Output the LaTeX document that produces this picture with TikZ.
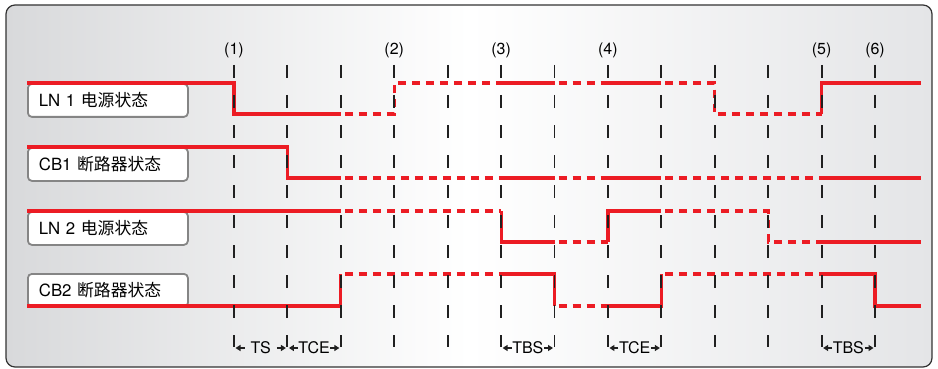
\documentclass[tikz,border=0pt]{standalone}
\usepackage{fontspec}
\setmainfont{TeX Gyre Heros}
\newfontfamily\cjk{Noto Sans CJK SC}
\usetikzlibrary{arrows.meta,calc}
\definecolor{sigred}{HTML}{EC1C24}
\definecolor{tickgray}{HTML}{202020}
\definecolor{boxgray}{HTML}{858585}
\definecolor{bgleft}{HTML}{D8D9DB}
\definecolor{bgright}{HTML}{E4E5E7}
\definecolor{framegray}{HTML}{333333}
\begin{document}
\begin{tikzpicture}[x=1pt,y=-1pt,
  lbl/.style={font=\fontsize{16}{19}\selectfont, inner sep=0pt},
  dimlbl/.style={font=\fontsize{16}{19}\selectfont, inner sep=0pt},
  statebox/.style={draw=boxgray, line width=1.8pt, rounded corners=4pt, fill=white,
    minimum height=33pt, text width=138pt, inner xsep=11pt, inner ysep=0pt,
    align=left, anchor=north west, font=\fontsize{16.8}{19}\selectfont},
  tick/.style={tickgray, line width=1.9pt, dash pattern=on 13pt off 17pt},
  sig/.style={sigred, line width=3.2pt},
  sigdot/.style={sigred, line width=3.2pt, dash pattern=on 8pt off 6pt, dash phase=10pt},
  dimarrow/.style={-{Triangle[length=5pt,width=6pt]}, line width=1.4pt, tickgray},
  ]
\useasboundingbox (0,0) rectangle (938,369);
% background panel
\shade[left color=bgleft, right color=bgright, middle color=white, rounded corners=9pt]
  (6,5) rectangle (932,367);
\draw[framegray, line width=1.2pt, rounded corners=9pt] (6,5) rectangle (932,367);

% reference coordinates
\foreach \i in {0,...,12} { \coordinate (t\i) at ({234+53.42*\i},65); }
\coordinate (bot) at (0,347);
\coordinate (xs) at (27,0);
\coordinate (xe) at (921,0);
\coordinate (h1) at (0,83);  \coordinate (l1) at (0,114);
\coordinate (h2) at (0,147); \coordinate (l2) at (0,178);
\coordinate (h3) at (0,211); \coordinate (l3) at (0,242);
\coordinate (h4) at (0,274); \coordinate (l4) at (0,306);
\coordinate (ytop) at (0,50.5);
\coordinate (ydim) at (0,348);

% state boxes
\node[statebox] (box1) at (27,83) {LN 1 {\cjk 电源状态}};
\node[statebox] (box2) at (27,147) {CB1 {\cjk 断路器状态}};
\node[statebox] (box3) at (27,211) {LN 2 {\cjk 电源状态}};
\node[statebox] (box4) at (27,273) {CB2 {\cjk 断路器状态}};

% LN1
\draw[sig] (xs |- h1) -- (t0 |- h1) -- (t0 |- l1) -- (t2 |- l1);
\draw[sigdot] (t2 |- l1) -- (t3 |- l1) -- (t3 |- h1) -- (t5 |- h1);
\draw[sig] (t5 |- h1) -- (t6 |- h1);
\draw[sigdot] (t6 |- h1) -- (t7 |- h1);
\draw[sig] (t7 |- h1) -- (t8 |- h1);
\draw[sigdot] (t8 |- h1) -- (t9 |- h1) -- (t9 |- l1) -- (t11 |- l1);
\draw[sig] (t11 |- l1) -- (t11 |- h1) -- (xe |- h1);
% CB1
\draw[sig] (xs |- h2) -- (t1 |- h2) -- (t1 |- l2) -- (t2 |- l2);
\draw[sigdot] (t2 |- l2) -- (t5 |- l2);
\draw[sig] (t5 |- l2) -- (t6 |- l2);
\draw[sigdot] (t6 |- l2) -- (t7 |- l2);
\draw[sig] (t7 |- l2) -- (t8 |- l2);
\draw[sigdot] (t8 |- l2) -- (t11 |- l2);
\draw[sig] (t11 |- l2) -- (xe |- l2);
% LN2
\draw[sig] (xs |- h3) -- (t2 |- h3);
\draw[sigdot] (t2 |- h3) -- (t5 |- h3);
\draw[sig] (t5 |- h3) -- (t5 |- l3) -- (t6 |- l3);
\draw[sigdot] (t6 |- l3) -- (t7 |- l3);
\draw[sig] (t7 |- l3) -- (t7 |- h3) -- (t8 |- h3);
\draw[sigdot] (t8 |- h3) -- (t10 |- h3) -- (t10 |- l3) -- (t11 |- l3);
\draw[sig] (t11 |- l3) -- (xe |- l3);
% CB2
\draw[sig] (xs |- l4) -- (t2 |- l4) -- (t2 |- h4);
\draw[sigdot] (t2 |- h4) -- (t5 |- h4);
\draw[sig] (t5 |- h4) -- (t6 |- h4) -- (t6 |- l4);
\draw[sigdot] (t6 |- l4) -- (t7 |- l4);
\draw[sig] (t7 |- l4) -- (t8 |- l4) -- (t8 |- h4);
\draw[sigdot] (t8 |- h4) -- (t11 |- h4);
\draw[sig] (t11 |- h4) -- (t12 |- h4) -- (t12 |- l4) -- (xe |- l4);

% dashed time lines
\foreach \i in {0,...,12} { \draw[tick] (t\i) -- (t\i |- bot); }

% event labels
\node[lbl] (e1) at (t0 |- ytop) {(1)};
\node[lbl] (e2) at (t3 |- ytop) {(2)};
\node[lbl] (e3) at (t5 |- ytop) {(3)};
\node[lbl] (e4) at (t7 |- ytop) {(4)};
\node[lbl] (e5) at (t11 |- ytop) {(5)};
\node[lbl] (e6) at (t12 |- ytop) {(6)};

% interval markers
\foreach \a/\b/\txt/\nm in {0/1/TS/ts, 1/2/TCE/tce1, 5/6/TBS/tbs1, 7/8/TCE/tce2, 11/12/TBS/tbs2} {
  \node[dimlbl] (\nm) at ($(t\a |- ydim)!0.5!(t\b |- ydim)$) {\txt};
  \draw[dimarrow] ($(t\a |- ydim)+(10.5,0)$) -- ($(t\a |- ydim)+(1.5,0)$);
  \draw[dimarrow] ($(t\b |- ydim)+(-10.5,0)$) -- ($(t\b |- ydim)+(-1.5,0)$);
}
\end{tikzpicture}
\end{document}
